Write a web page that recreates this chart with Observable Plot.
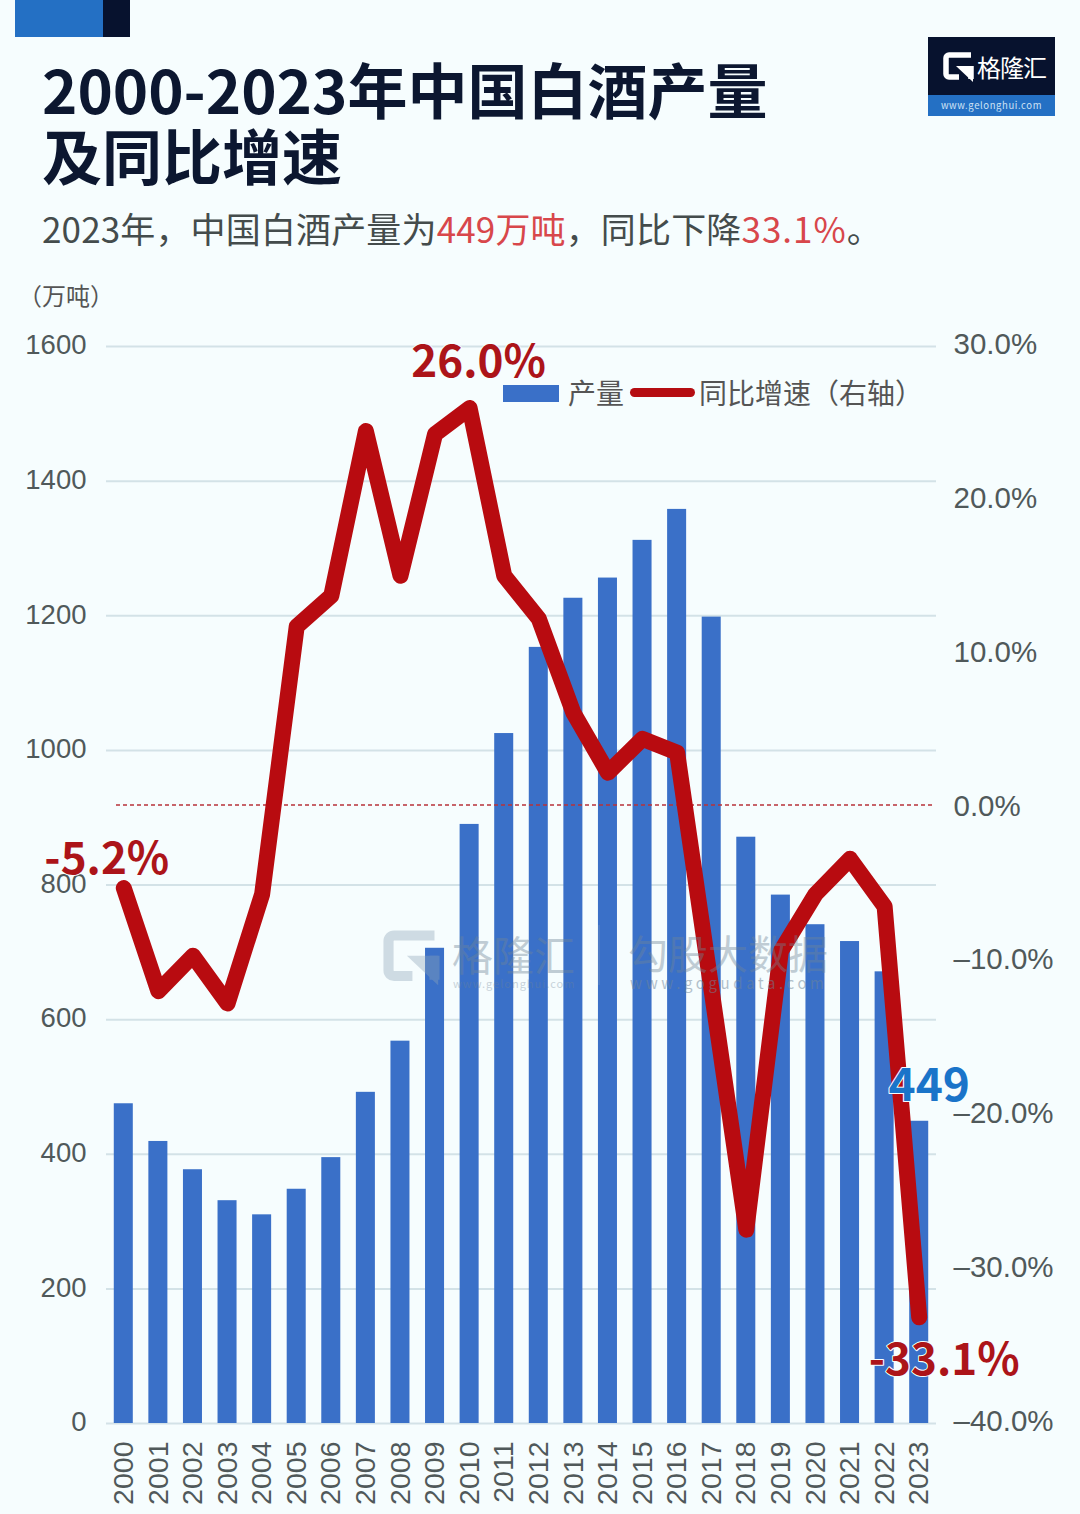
<!DOCTYPE html>
<html>
<head>
<meta charset="utf-8">
<script src="https://cdn.jsdelivr.net/npm/d3@7"></script>
<script src="https://cdn.jsdelivr.net/npm/@observablehq/plot@0.6"></script>
<style>
  html, body { margin: 0; background: #f6fdfe; }
  body { width: 1080px; height: 1514px; position: relative; overflow: hidden; font-family: "Noto Sans CJK SC", "Noto Sans", sans-serif; }
  .abs { position: absolute; white-space: nowrap; }
  #chart { position: absolute; left: 0; top: 280px; }
  #chart svg { background: transparent; display: block; }
  .red { color: #d8474b; }
</style>
</head>
<body>
<div class="abs" style="left:15px;top:0;width:88px;height:37px;background:#2470c4"></div>
<div class="abs" style="left:103px;top:0;width:27px;height:37px;background:#07122e"></div>

<div class="abs" style="left:42px;top:55px;font-size:60px;font-weight:700;line-height:66px;color:#0c1730">2000-2023年中国白酒产量<br>及同比增速</div>
<div class="abs" style="left:42px;top:203px;font-size:35px;line-height:50px;letter-spacing:.15px;color:#444c4c">2023年，中国白酒产量为<span class="red">449万吨</span>，同比下降<span class="red" style="letter-spacing:1px">33.1%</span>。</div>
<div class="abs" style="left:18px;top:278px;font-size:24px;line-height:34px;color:#555">（万吨）</div>

<!-- logo -->
<div class="abs" style="left:928px;top:37px;width:127px;height:79px;background:#07122e">
  <svg class="abs" style="left:15px;top:15px" width="31" height="31" viewBox="0 0 31 31">
    <path d="M28 3H6a3 3 0 0 0-3 3V22a3 3 0 0 0 3 3H16M28 14V27" fill="none" stroke="#fff" stroke-width="5.5"/>
    <path d="M13 14H30V30Z" fill="#fff"/>
  </svg>
  <div class="abs" style="left:49px;top:12px;font-size:24px;line-height:36px;letter-spacing:-1px;color:#fff">格隆汇</div>
  <div class="abs" style="left:0;top:58px;width:127px;height:21px;background:#2470c4;color:#cfe3f5;font-size:9.5px;line-height:21px;letter-spacing:.6px;text-align:center">www.gelonghui.com</div>
</div>

<div id="chart"></div>

<!-- legend -->
<div class="abs" style="left:503px;top:385px;width:56px;height:17px;background:#3a70c8"></div>
<div class="abs" style="left:568px;top:372px;font-size:28px;line-height:40px;color:#555">产量</div>
<div class="abs" style="left:630px;top:388px;width:65px;height:9px;border-radius:5px;background:#b50d12"></div>
<div class="abs" style="left:699px;top:372px;font-size:28px;line-height:40px;color:#555">同比增速（右轴）</div>

<!-- watermark -->
<svg class="abs" style="left:383px;top:930px;opacity:.38" width="57" height="57" viewBox="0 0 31 31">
  <path d="M28 3H6a3 3 0 0 0-3 3V22a3 3 0 0 0 3 3H16M28 14V27" fill="none" stroke="#8fa5b8" stroke-width="5.5"/>
  <path d="M13 14H30V30Z" fill="#8fa5b8"/>
</svg>
<div class="abs" style="left:452px;top:927px;font-size:41px;line-height:52px;color:#6f8598;opacity:.4">格隆汇</div>
<div class="abs" style="left:453px;top:975px;font-size:11px;line-height:16px;letter-spacing:1px;color:#6f8598;opacity:.35">www.gelonghui.com</div>
<div class="abs" style="left:598px;top:925px;width:2px;height:60px;background:#8fa5b8;opacity:.2"></div>
<div class="abs" style="left:628px;top:926px;font-size:40px;line-height:52px;color:#6f8598;opacity:.4">勾股大数据</div>
<div class="abs" style="left:630px;top:973px;font-size:15px;line-height:20px;letter-spacing:3.6px;color:#6f8598;opacity:.5">www.gogudata.com</div>

<script>
const years = d3.range(2000, 2024).map(String);
// 产量（万吨）
const output = [475, 419, 377, 331, 310, 348, 395, 492, 568, 706, 890, 1025, 1153, 1226, 1256, 1312, 1358, 1198, 871, 785, 741, 716, 671, 449];
// 同比增速（%）
const growth = [-5.2, -11.9, -9.6, -12.7, -5.6, 11.8, 13.8, 24.5, 15.1, 24.3, 26.0, 15.1, 12.3, 6.2, 2.3, 4.5, 3.6, -11.9, -27.4, -9.3, -5.6, -3.3, -6.4, -33.1];
const leftTicks = [0, 200, 400, 600, 800, 1000, 1200, 1400, 1600];
const rightTicks = [-40, -30, -20, -10, 0, 10, 20, 30];

// 右轴映射到左轴的刻度上
const toLeft = d3.scaleLinear([-40, 30], [0, 1600]);

const table = years.map((year, i) => ({year, output: output[i], growth: growth[i], g: toLeft(growth[i])}));
const fmtRight = d => {
  const v = Math.round(toLeft.invert(d));
  return (v < 0 ? "\u2013" : "") + Math.abs(v).toFixed(1) + "%";
};

function callout(year, value, text, color, size, dx, dy) {
  return Plot.text([{year, value}], {
    x: "year", y: "value", text: () => text, fill: color,
    stroke: "#f6fdfe", strokeWidth: 2, paintOrder: "stroke",
    fontFamily: "'Noto Sans CJK SC'", fontSize: size, fontWeight: 700, dx, dy
  });
}

const chart = Plot.plot({
  width: 1080,
  height: 1234,
  marginLeft: 106,
  marginRight: 144,
  marginTop: 66,
  marginBottom: 91,
  style: {background: "transparent", fontFamily: "'Liberation Sans', 'Noto Sans CJK SC', sans-serif"},
  x: {domain: years, paddingInner: 0.45, paddingOuter: 0.225, align: 0.5, round: false, label: null},
  y: {domain: [0, 1600], label: null},
  marks: [
    Plot.ruleY(leftTicks, {stroke: "#d3e2e7", strokeWidth: 2}),
    Plot.barY(table, {x: "year", y: "output", fill: "#3a70c8"}),
    Plot.ruleY([toLeft(0)], {stroke: "#b8323a", strokeWidth: 1.5, strokeDasharray: "4 3", insetLeft: 10, insetRight: 4, dy: -3}),
    Plot.axisY(leftTicks, {anchor: "left", tickSize: 0, tickPadding: 20, fontSize: 27.5, fill: "#50595a", tickFormat: d => String(d), dy: -1, label: null}),
    Plot.axisY(rightTicks.map(toLeft), {anchor: "right", tickSize: 0, tickPadding: 17, fontSize: 29.5, fill: "#50595a", tickFormat: fmtRight, dy: -2, label: null}),
    Plot.axisX(years, {anchor: "bottom", tickSize: 0, tickPadding: 18, tickRotate: -90, fontSize: 28.5, fill: "#50595a", label: null}),
    Plot.line(table, {x: "year", y: "g", stroke: "#b80b10", strokeWidth: 16, strokeLinejoin: "round", strokeLinecap: "round"}),
    callout("2010", toLeft(26), "26.0%", "#ac1419", 44, 9, -45),
    callout("2000", toLeft(-5.2), "-5.2%", "#ac1419", 44, -17, -28),
    callout("2023", 449, "449", "#1a74c9", 46, 10, -35),
    callout("2023", toLeft(-33.1), "-33.1%", "#ac1419", 44, 25, 44)
  ]
});
document.getElementById("chart").append(chart);
</script>
</body>
</html>
